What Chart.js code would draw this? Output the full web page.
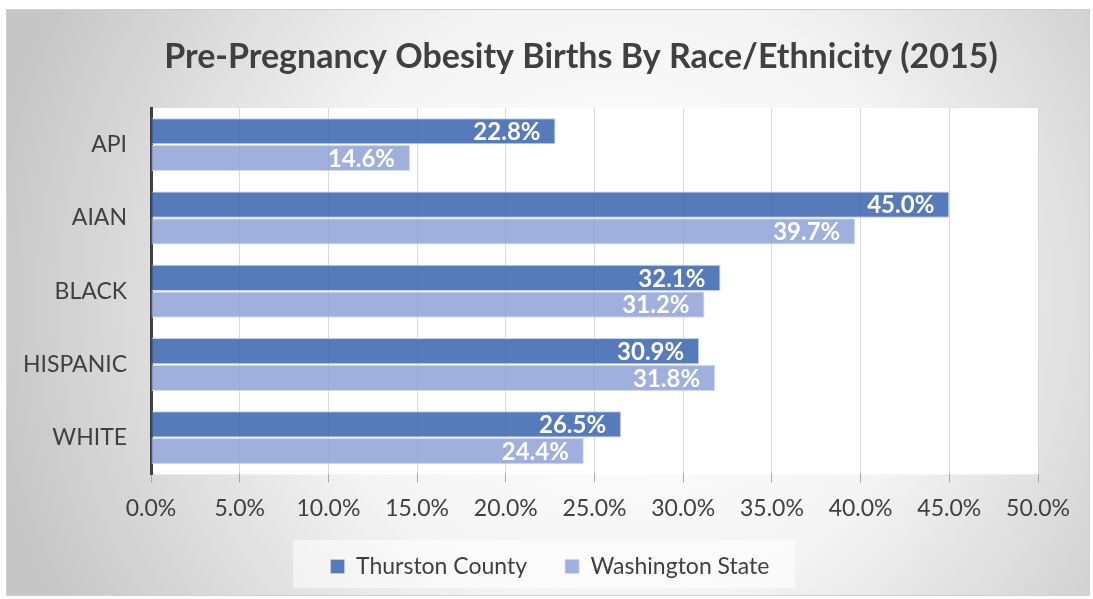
<!DOCTYPE html>
<html>
<head>
<meta charset="utf-8">
<script src="https://cdn.jsdelivr.net/npm/chart.js@4"></script>
<style>
  body { margin: 0; background: #fff; }
  #wrap { width: 1093px; height: 599px; }
</style>
</head>
<body>
<div id="wrap"><canvas id="obesityChart"></canvas></div>
<script>
const chartTitle = 'Pre-Pregnancy Obesity Births By Race/Ethnicity (2015)';
const categories = ['API', 'AIAN', 'BLACK', 'HISPANIC', 'WHITE'];
const thurston = [22.8, 45.0, 32.1, 30.9, 26.5];
const washington = [14.6, 39.7, 31.2, 31.8, 24.4];
const xTicks = [0, 5, 10, 15, 20, 25, 30, 35, 40, 45, 50];

const ctx = document.getElementById('obesityChart');

// background gradient, white plot area, legend strip and the title
const backdrop = {
  id: 'backdrop',
  afterLayout(chart) {
    // legend sits a bit right of the plot centre in the original
    const leg = chart.legend;
    leg.left += 28;
    leg.right += 28;
  },
  beforeDraw(chart) {
    const c = chart.ctx;
    const w = chart.width, h = chart.height;
    c.save();
    c.fillStyle = '#fff';
    c.fillRect(0, 0, w, h);
    const g = c.createRadialGradient(620, 300, 40, 620, 300, 640);
    g.addColorStop(0, '#ffffff');
    g.addColorStop(0.45, '#f4f4f4');
    g.addColorStop(1, '#c6c6c6');
    c.fillStyle = g;
    c.fillRect(6, 9, w - 9, h - 12);
    c.strokeStyle = '#d0d0d0';
    c.lineWidth = 1;
    c.strokeRect(6.5, 9.5, w - 10, h - 13);

    const leg = chart.legend;
    if (leg) {
      const cx = (leg.left + leg.right) / 2;
      const cy = leg.bottom - 24;
      c.fillStyle = 'rgba(255,255,255,0.55)';
      c.fillRect(cx - 257, cy - 24, 502, 48);
    }
    const a = chart.chartArea;
    c.fillStyle = '#fff';
    c.fillRect(a.left, a.top, a.right - a.left, a.bottom - a.top);

    c.font = 'bold 34px Lato';
    c.fillStyle = '#404040';
    c.textAlign = 'center';
    c.textBaseline = 'middle';
    c.fillText(chartTitle, 581, 57);
    c.restore();
  }
};

const valueLabels = {
  id: 'valueLabels',
  afterDatasetsDraw(chart) {
    const c = chart.ctx;
    c.save();
    c.font = 'bold 24px Lato';
    c.fillStyle = '#ffffff';
    c.textAlign = 'right';
    c.textBaseline = 'middle';
    chart.data.datasets.forEach((ds, i) => {
      chart.getDatasetMeta(i).data.forEach((bar, j) => {
        c.fillText(ds.data[j].toFixed(1) + '%', bar.x - 15, bar.y + 1);
      });
    });
    c.restore();
  }
};

new Chart(ctx, {
  type: 'bar',
  data: {
    labels: categories,
    datasets: [{
      label: 'Thurston County',
      data: thurston,
      backgroundColor: 'rgba(56,100,175,0.85)',
      borderColor: 'rgba(190,205,235,0.9)',
      borderWidth: 1,
      categoryPercentage: 0.73,
      barPercentage: 0.98,
    }, {
      label: 'Washington State',
      data: washington,
      backgroundColor: 'rgba(143,162,214,0.85)',
      borderColor: 'rgba(205,215,240,0.9)',
      borderWidth: 1,
      categoryPercentage: 0.73,
      barPercentage: 0.98,
    }],
  },
  options: {
    indexAxis: 'y',
    responsive: true,
    maintainAspectRatio: false,
    animation: false,
    layout: { padding: { left: 6, right: 55, top: 108, bottom: 11 } },
    scales: {
      x: {
        min: 0,
        max: 50,
        afterBuildTicks(axis) { axis.ticks = xTicks.map(v => ({ value: v })); },
        afterFit(axis) { axis.height -= 17; },
        ticks: {
          callback: v => v.toFixed(1) + '%',
          color: '#404040',
          font: { family: 'Lato', size: 23 },
          padding: 12,
        },
        grid: { color: '#d9d9d9', lineWidth: 1, tickLength: 8, tickColor: '#a6a6a6' },
        border: { display: false },
      },
      y: {
        afterFit(axis) { axis.width = 145; },
        ticks: {
          color: '#404040',
          font: { family: 'Lato', size: 23 },
          padding: 16,
        },
        grid: { display: false },
        border: { color: '#404040', width: 3 },
      },
    },
    plugins: {
      title: { display: false },
      legend: {
        position: 'bottom',
        labels: {
          color: '#404040',
          font: { family: 'Lato', size: 23 },
          boxWidth: 14,
          boxHeight: 14,
          padding: 38,
        },
      },
      tooltip: { enabled: false },
    },
  },
  plugins: [backdrop, valueLabels],
});
</script>
</body>
</html>
